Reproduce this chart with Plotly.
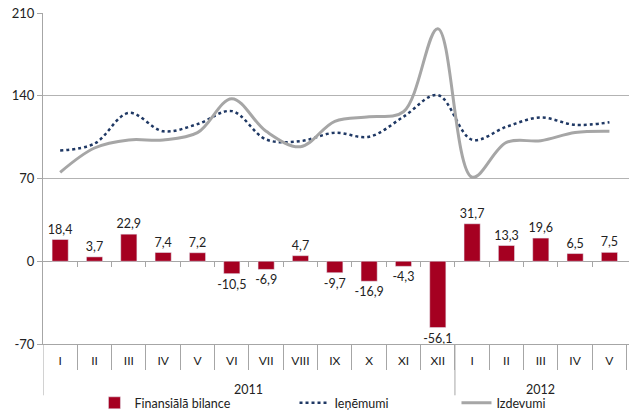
import plotly.graph_objects as go

years = ["2011", "2012"]
year_counts = [12, 5]
months = ["I", "II", "III", "IV", "V", "VI", "VII", "VIII", "IX", "X", "XI", "XII",
          "I", "II", "III", "IV", "V"]
bilance = [18.4, 3.7, 22.9, 7.4, 7.2, -10.5, -6.9, 4.7, -9.7, -16.9, -4.3, -56.1,
           31.7, 13.3, 19.6, 6.5, 7.5]
ienemumi = [93.6, 99.5, 125.5, 110.0, 116.0, 127.0, 103.0, 101.6, 108.7, 105.3, 122.2, 140.6,
            102.8, 113.8, 121.6, 115.4, 117.5]
izdevumi = [75.2, 95.8, 102.6, 102.6, 108.8, 137.5, 109.9, 96.9, 118.4, 122.2, 126.5, 196.7,
            71.1, 100.5, 102.0, 108.9, 110.0]
y_ticks = [-70, 0, 70, 140, 210]

FONT = "Lato"
TXT = "#222222"
AX = "#A6A6A6"
n = len(months)
idx = list(range(n))
labels = [f"{v:.1f}".replace(".", ",") for v in bilance]

fig = go.Figure()
fig.add_trace(go.Bar(
    x=idx, y=bilance, name="Finansiālā bilance", marker_color="#A50021",
    width=0.47, text=labels, textposition="outside", cliponaxis=False,
    constraintext="none", legend="legend",
    textfont=dict(family=FONT, size=12.5, color=TXT),
))
fig.add_trace(go.Scatter(
    x=idx, y=ienemumi, name="Ieņēmumi", mode="lines", legend="legend2",
    line=dict(color="#1F3864", width=2.5, dash="dot", shape="spline", smoothing=1.0),
))
fig.add_trace(go.Scatter(
    x=idx, y=izdevumi, name="Izdevumi", mode="lines", legend="legend3",
    line=dict(color=AX, width=3, shape="spline", smoothing=1.0),
))
# helper traces so the overlay axes get drawn
fig.add_trace(go.Scatter(x=[0], y=[None], xaxis="x2", showlegend=False, hoverinfo="skip"))
fig.add_trace(go.Scatter(x=[0], y=[None], xaxis="x3", showlegend=False, hoverinfo="skip"))

xr = [-0.5, n - 0.43]
bounds = [i + 0.5 for i in range(-1, n)]

annotations = []
shapes = []
start = 0
for yr, cnt in zip(years, year_counts):
    center = start + (cnt - 1) / 2
    annotations.append(dict(x=center, y=-0.136, xref="x", yref="paper", text=yr,
                            showarrow=False, yanchor="middle",
                            font=dict(family=FONT, size=12.5, color=TXT)))
    shapes.append(dict(type="line", xref="x", yref="paper", x0=start - 0.5, x1=start - 0.5,
                       y0=0, y1=-0.155, line=dict(color=AX, width=1)))
    start += cnt

leg_common = dict(orientation="h", xanchor="left", y=-0.1788, yanchor="middle",
                  font=dict(family=FONT, size=12.5, color=TXT), itemwidth=30,
                  bgcolor="rgba(0,0,0,0)", borderwidth=0)

fig.update_layout(
    width=629, height=412,
    margin=dict(l=43, r=0, t=13, b=68, autoexpand=False),
    plot_bgcolor="white", paper_bgcolor="white",
    font=dict(family=FONT, size=12, color=TXT),
    showlegend=True,
    legend=dict(x=0.0878, **leg_common),
    legend2=dict(x=0.4292, **leg_common),
    legend3=dict(x=0.7056, **leg_common),
    annotations=annotations,
    shapes=shapes,
    xaxis=dict(range=xr, tickvals=idx, ticktext=months, ticks="", showline=True,
               linecolor=AX, linewidth=1, showgrid=False, zeroline=False, automargin=False,
               tickfont=dict(family=FONT, size=12, color=TXT), ticklabelstandoff=6),
    xaxis2=dict(overlaying="x", anchor="free", position=0.25, range=xr,
                tickvals=bounds[1:-1], ticks="outside", ticklen=5,
                tickcolor=AX, showticklabels=False, showgrid=False, automargin=False,
                zeroline=False, showline=False),
    xaxis3=dict(overlaying="x", anchor="free", position=0, range=xr,
                tickvals=bounds[1:], ticks="outside", ticklen=25,
                tickcolor=AX, showticklabels=False, showgrid=False, automargin=False,
                zeroline=False, showline=False),
    yaxis=dict(range=[-70, 210], tickvals=y_ticks, ticktext=[str(v) for v in y_ticks],
               showgrid=True, gridcolor="#B3B3B3", automargin=False,
               gridwidth=1, zeroline=True, zerolinecolor=AX, zerolinewidth=1,
               showline=True, linecolor=AX, ticks="outside", ticklen=5,
               tickcolor=AX, tickfont=dict(family=FONT, size=13, color=TXT)),
)

# remove the default 8px page margin so the figure sits at the window's top-left corner
fig.write_html("out.html", config={"displayModeBar": False},
               post_script="document.body.style.margin='0px';")
